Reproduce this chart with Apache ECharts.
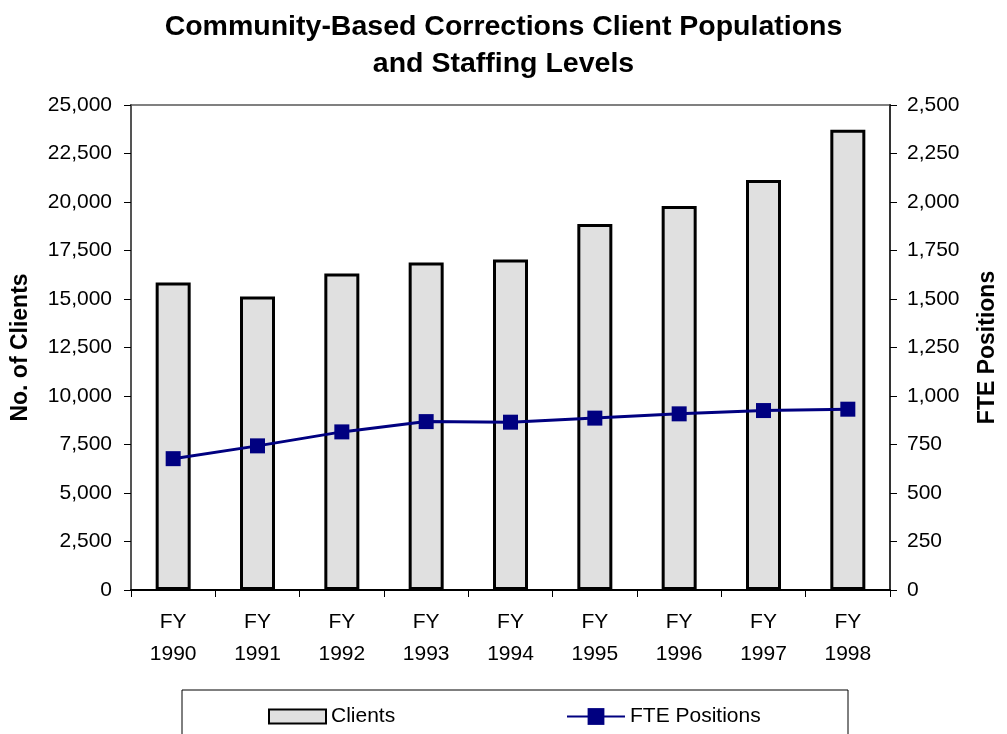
<!DOCTYPE html>
<html>
<head>
<meta charset="utf-8">
<script src="https://cdn.jsdelivr.net/npm/echarts@6/dist/echarts.min.js"></script>
<style>
  html, body { margin: 0; padding: 0; background: #fff; }
  #chart { width: 1007px; height: 734px; }
</style>
</head>
<body>
<div id="chart"></div>
<script>
// data
const years = ['1990', '1991', '1992', '1993', '1994', '1995', '1996', '1997', '1998'];
const clients = [15850, 15130, 16310, 16880, 17040, 18860, 19790, 21130, 23730];
const ftePositions = [677, 743, 815, 868, 865, 886, 908, 925, 932];

const FONT = '"Liberation Sans", Arial, sans-serif';

const chart = echarts.init(document.getElementById('chart'));

function fmt(v) {
  return v.toLocaleString('en-US');
}

let option = {
  backgroundColor: '#fff',
  textStyle: { fontFamily: FONT },
  title: {
    text: 'Community-Based Corrections Client Populations\nand Staffing Levels',
    left: 'center',
    top: 4,
    textStyle: {
      fontFamily: FONT,
      fontSize: 28.5,
      fontWeight: 'bold',
      color: '#000',
      lineHeight: 37
    }
  },
  legend: [
    {
      data: [{ name: 'Clients', icon: 'rect' }],
      left: 268,
      top: 706,
      padding: 0,
      itemWidth: 57,
      itemHeight: 14,
      textStyle: { fontFamily: FONT, fontSize: 21, color: '#000' }
    },
    {
      data: ['FTE Positions'],
      left: 566,
      top: 706,
      padding: 0,
      itemWidth: 58,
      itemHeight: 21,
      textStyle: { fontFamily: FONT, fontSize: 21, color: '#000' }
    }
  ],
  graphic: [
    {
      type: 'rect',
      shape: { x: 182, y: 690, width: 666, height: 70 },
      style: { fill: 'none', stroke: '#000', lineWidth: 1 },
      silent: true
    }
  ],
  grid: {
    left: 131,
    right: 106,
    top: 105,
    bottom: 144,
    show: true,
    borderColor: '#808080',
    borderWidth: 2
  },
  xAxis: {
    type: 'category',
    data: years,
    axisLine: { lineStyle: { color: '#000', width: 2 } },
    axisTick: { show: true, alignWithLabel: false, length: 7, lineStyle: { color: '#000' } },
    axisLabel: {
      interval: 0,
      margin: 16,
      fontSize: 21,
      color: '#000',
      lineHeight: 32,
      formatter: v => 'FY\n' + v
    }
  },
  yAxis: [
    {
      type: 'value',
      min: 0,
      max: 25000,
      interval: 2500,
      name: 'No. of Clients',
      nameLocation: 'middle',
      nameGap: 99,
      nameTextStyle: { fontFamily: FONT, fontSize: 23, fontWeight: 'bold', color: '#000' },
      axisLine: { show: true, lineStyle: { color: '#555', width: 2 } },
      axisTick: { show: true, length: 7, lineStyle: { color: '#000' } },
      axisLabel: { margin: 19, fontSize: 21, color: '#000', formatter: fmt },
      splitLine: { show: false }
    },
    {
      type: 'value',
      min: 0,
      max: 2500,
      interval: 250,
      name: 'FTE Positions',
      nameLocation: 'middle',
      nameGap: 86,
      nameTextStyle: { fontFamily: FONT, fontSize: 23, fontWeight: 'bold', color: '#000' },
      axisLine: { show: true, lineStyle: { color: '#333', width: 2 } },
      axisTick: { show: true, length: 7, lineStyle: { color: '#000' } },
      axisLabel: { margin: 17, fontSize: 21, color: '#000', formatter: fmt },
      splitLine: { show: false }
    }
  ],
  series: [
    {
      name: 'Clients',
      type: 'bar',
      yAxisIndex: 0,
      barWidth: 35,
      itemStyle: { color: '#e0e0e0', borderColor: '#000', borderWidth: 3 },
      data: clients
    },
    {
      name: 'FTE Positions',
      type: 'line',
      yAxisIndex: 1,
      symbol: 'rect',
      symbolSize: 15,
      lineStyle: { color: '#000080', width: 3 },
      itemStyle: { color: '#000080' },
      data: ftePositions
    }
  ]
};

chart.setOption(option);
</script>
</body>
</html>
